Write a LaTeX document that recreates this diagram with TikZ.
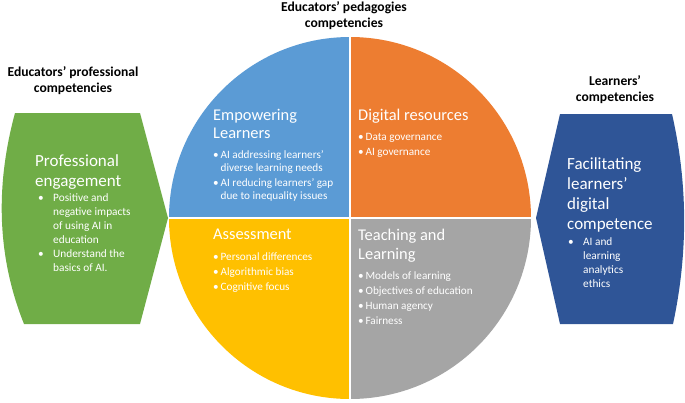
\documentclass[tikz,border=0pt]{standalone}
\usepackage{fontspec}
\setmainfont{Carlito}
\usetikzlibrary{calc,positioning}

\definecolor{empblue}{HTML}{5B9BD5}
\definecolor{digorange}{HTML}{ED7D31}
\definecolor{assyellow}{HTML}{FFC000}
\definecolor{teachgray}{HTML}{A5A5A5}
\definecolor{profgreen}{HTML}{70AD47}
\definecolor{learnblue}{HTML}{2F5597}

\newcommand\qbul{\textbullet\,}
\newcommand\qgap{\hphantom{\textbullet\,}}
\newcommand\sbul{\makebox[15pt][l]{\textbullet}}
\newcommand\sgap{\hspace*{15pt}}

\begin{document}
\begin{tikzpicture}[
                x=1pt, y=-1pt,
                every node/.style={inner sep=0pt,align=left,text=white},
                heading/.style={font=\fontsize{13.6}{16}\selectfont\bfseries,text=black,align=center},
                quadtitle/.style={anchor=north west,font=\fontsize{16.4}{18.5}\selectfont},
                quaditems/.style={anchor=north west,font=\fontsize{11.2}{13.2}\selectfont},
                sidetitle/.style={anchor=north west,font=\fontsize{17}{20}\selectfont},
                sideitems/.style={anchor=north west,font=\fontsize{11.3}{14}\selectfont}
            ]
            \useasboundingbox (0,0) rectangle (685,402);

            % draw the quadrants
            \coordinate (c) at (350,218);
            \foreach \col/\a in {teachgray/0, assyellow/90, empblue/180, digorange/270}
                \fill[\col] (c) -- ++(\a:181) arc[start angle=\a, delta angle=90, radius=181] -- cycle;
            \draw[white, line width=1.5pt] (c) ++(0,-182) -- ++(0,364) (c) ++(-182,0) -- ++(364,0);

            % side shapes
            \fill[profgreen] (15,113) -- (140,113) -- (168,218) -- (140,324) -- (24,324)
                .. controls (-4,254) and (-4,183) .. (15,113) -- cycle;
            \fill[learnblue] (560,114) -- (672,114) .. controls (688,184) and (688,254) .. (673,324)
                -- (560,324) -- (536,218) -- cycle;

            % headings
            \node[heading] (pedhead) at (344,16) {Educators’ pedagogies\\competencies};
            \node[heading] (profhead) at (73,81) {Educators’ professional\\competencies};
            \node[heading] (learnhead) at (615,90) {Learners’\\competencies};

            % quadrant texts
            \node[quadtitle] (emp) at (213,109) {Empowering\\Learners};
            \node[quaditems] (empitems) at (213,150) {\qbul AI addressing learners’\\\qgap diverse learning needs\\[1.5pt]\qbul AI reducing learners’ gap\\\qgap due to inequality issues};
            \node[quadtitle] (dig) at (358,109) {Digital resources};
            \node[quaditems] (digitems) at (358,133) {\qbul Data governance\\[1.5pt]\qbul AI governance};
            \node[quadtitle] (ass) at (213,229) {Assessment};
            \node[quaditems] (assitems) at (213,253) {\qbul Personal differences\\[1.5pt]\qbul Algorithmic bias\\[1.5pt]\qbul Cognitive focus};
            \node[quadtitle] (teach) at (358,229) {Teaching and\\Learning};
            \node[quaditems] (teachitems) at (358,272) {\qbul Models of learning\\[1.5pt]\qbul Objectives of education\\[1.5pt]\qbul Human agency\\[1.5pt]\qbul Fairness};

            % side texts
            \node[sidetitle] (prof) at (35,154) {Professional\\engagement};
            \node[sideitems] (profitems) at (38,193) {\sbul Positive and\\\sgap negative impacts\\\sgap of using AI in\\\sgap education\\\sbul Understand the\\\sgap basics of AI.};
            \node[sidetitle] (facil) at (567,157) {Facilitating\\learners’\\digital\\competence};
            \node[sideitems] (facilitems) at (568,237) {\sbul AI and\\\sgap learning\\\sgap analytics\\\sgap ethics};
        \end{tikzpicture}
\end{document}
